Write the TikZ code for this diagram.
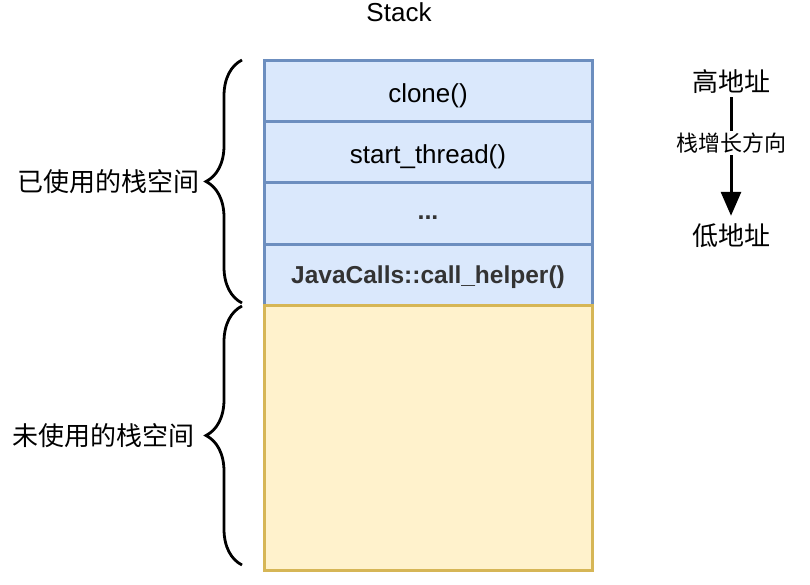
\documentclass[tikz,border=0pt]{standalone}
\usepackage{fontspec}
\setmainfont{Liberation Sans}
\newfontfamily\cjk{Noto Sans CJK SC}
\usepackage{xcolor}
\usepackage{tikz}
\usetikzlibrary{decorations.pathreplacing}
\usetikzlibrary{positioning, calc, arrows.meta}

\definecolor{usedfill}{HTML}{DAE8FC}
\definecolor{useddraw}{HTML}{6C8EBF}
\definecolor{freefill}{HTML}{FFF2CC}
\definecolor{freedraw}{HTML}{D6B656}
\definecolor{darktext}{HTML}{333333}

\begin{document}
\begin{tikzpicture}[
    x=1pt, y=-1pt,
    node distance=0pt,
    % Khung của từng frame trên stack
    frame/.style={draw=useddraw, fill=usedfill, line width=3pt, outer sep=0pt,
        minimum width=328pt, minimum height=61pt, inner sep=0pt,
        text height=22.5pt, text depth=0pt,
        font=\fontsize{26}{30}\selectfont},
    % Vùng còn trống
    freearea/.style={draw=freedraw, fill=freefill, line width=3pt, outer sep=0pt,
        minimum width=328pt, minimum height=265pt, inner sep=0pt},
    % Dấu ngoặc nhọn
    bracket/.style={decorate, decoration={brace, amplitude=36pt}, line width=2.8pt},
    sidelabel/.style={font=\cjk\fontsize{26}{30}\selectfont, inner sep=0pt}
]
\useasboundingbox (0,0) rectangle (810,585);

% Tiêu đề
\node[font=\fontsize{26}{30}\selectfont] (title) at (399,12) {Stack};

% Các frame (từ trên xuống)
\node[frame] (clone) at (428,91.5) {clone()};
\node[frame, below=of clone] (start) {start\_thread()};
\node[frame, below=of start, text height=12pt, font=\fontsize{25}{29}\selectfont\bfseries, text=darktext] (dots) {...};
\node[frame, below=of dots, text height=18pt, font=\fontsize{24.5}{28}\selectfont\bfseries, text=darktext] (helper) {JavaCalls::call\_helper()};
% Phần chưa dùng
\node[freearea, below=of helper] (free) {};

% Ngoặc bên trái
\draw[bracket] ($(helper.south west)+(-22,-2)$) coordinate (usedlow)
    -- ($(clone.north west)+(-22,-1)$) coordinate (usedhigh);
\draw[bracket] ($(free.south west)+(-22,-5)$) coordinate (freelow)
    -- ($(free.north west)+(-22,1)$) coordinate (freehigh);

\node[sidelabel, anchor=east] (usedlabel) at ($(usedlow)!0.5!(usedhigh)+(-42,0)$) {已使用的栈空间};
\node[sidelabel, anchor=east] (freelabel) at ($(freelow)!0.5!(freehigh)+(-47,0)$) {未使用的栈空间};

% Hướng tăng của stack
\node[sidelabel] (high) at (731,82) {高地址};
\node[sidelabel] (low) at (731,236) {低地址};
\draw[line width=3pt, shorten <=3pt, shorten >=8pt, -{Triangle[length=24pt, width=20pt]}] (high) -- (low)
    node[midway, yshift=16pt, fill=white, inner sep=2pt, font=\cjk\fontsize{22}{26}\selectfont] (grow) {栈增长方向};

\end{tikzpicture}
\end{document}
